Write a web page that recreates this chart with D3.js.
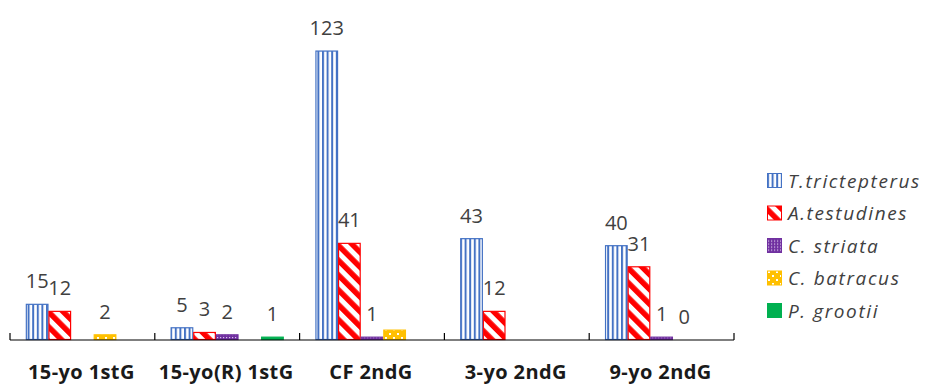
<!DOCTYPE html>
<html>
<head>
<meta charset="utf-8">
<script src="https://cdn.jsdelivr.net/npm/d3@7"></script>
<style>
  html, body { margin: 0; padding: 0; background: #fff; }
  svg { display: block; }
</style>
</head>
<body>
<div id="chart"></div>
<script>
// ---- data ----
const categories = ["15-yo 1stG", "15-yo(R) 1stG", "CF 2ndG", "3-yo 2ndG", "9-yo 2ndG"];
const seriesNames = ["T.trictepterus", "A.testudines", "C. striata", "C. batracus", "P. grootii"];
const tTrictepterus = [15, 5, 123, 43, 40];
const aTestudines   = [12, 3, 41, 12, 31];
const cStriata      = [null, 2, 1, null, 1];
const cBatracus     = [2, null, 4, null, 0];
const pGrootii      = [null, 1, null, null, null];
// data labels shown on the chart (null = no label)
const tLabels  = [15, 5, 123, 43, 40];
const aLabels  = [12, 3, 41, 12, 31];
const csLabels = [null, 2, 1, null, 1];
const cbLabels = [2, null, null, null, 0];
const pgLabels = [null, 1, null, null, null];

const seriesValues = [tTrictepterus, aTestudines, cStriata, cBatracus, pGrootii];
const seriesLabels = [tLabels, aLabels, csLabels, cbLabels, pgLabels];
const colors = ["#4472C4", "#FF0000", "#7030A0", "#FFC000", "#00B050"];
const fills = ["url(#pT)", "url(#pA)", "url(#pCs)", "url(#pCb)", "#00B050"];

const W = 925, H = 384;
const baseY = 339.5;

const svg = d3.select("#chart").append("svg").attr("width", W).attr("height", H);

// ---- patterns ----
const defs = svg.append("defs");
const pT = defs.append("pattern").attr("id", "pT").attr("patternUnits", "userSpaceOnUse")
  .attr("width", 4.6).attr("height", 10);
pT.append("rect").attr("width", 4.6).attr("height", 10).attr("fill", "#fff");
pT.append("rect").attr("x", 0).attr("width", 2).attr("height", 10).attr("fill", "#4472C4");
const pA = defs.append("pattern").attr("id", "pA").attr("patternUnits", "userSpaceOnUse")
  .attr("width", 10.5).attr("height", 10).attr("patternTransform", "rotate(-45)");
pA.append("rect").attr("width", 10.5).attr("height", 10).attr("fill", "#fff");
pA.append("rect").attr("width", 5.5).attr("height", 10).attr("fill", "#FF0000");
const pCs = defs.append("pattern").attr("id", "pCs").attr("patternUnits", "userSpaceOnUse")
  .attr("width", 3).attr("height", 3);
pCs.append("rect").attr("width", 3).attr("height", 3).attr("fill", "#7030A0");
pCs.append("rect").attr("x", 1).attr("y", 1).attr("width", 1.2).attr("height", 1.2).attr("fill", "#d9c6ea");
const pCb = defs.append("pattern").attr("id", "pCb").attr("patternUnits", "userSpaceOnUse")
  .attr("width", 8).attr("height", 8);
pCb.append("rect").attr("width", 8).attr("height", 8).attr("fill", "#FFC000");
pCb.append("rect").attr("x", 1).attr("y", 1).attr("width", 2).attr("height", 2).attr("fill", "#fff");
pCb.append("rect").attr("x", 5).attr("y", 5).attr("width", 2).attr("height", 2).attr("fill", "#fff");

// ---- scales ----
const x0 = d3.scaleBand().domain(categories).range([10, 734]).padding(0);
const x1 = d3.scaleBand().domain(seriesNames).range([0, x0.bandwidth()]).paddingInner(0).paddingOuter(0.7);
const y = d3.scaleLinear().domain([0, 130]).range([baseY, baseY - 130 * 2.345]);

// ---- bars ----
const barsData = [];
seriesNames.forEach((s, si) => {
  categories.forEach((c, ci) => {
    const v = seriesValues[si][ci];
    if (v !== null && v !== undefined) {
      barsData.push({ s, si, c, v, label: seriesLabels[si][ci] });
    }
  });
});

const gBars = svg.append("g");
gBars.selectAll("rect").data(barsData.filter(d => d.v > 0)).join("rect")
  .attr("x", d => x0(d.c) + x1(d.s) + 0.5)
  .attr("y", d => y(d.v))
  .attr("width", x1.bandwidth() - 1)
  .attr("height", d => baseY - y(d.v))
  .attr("fill", d => fills[d.si])
  .attr("stroke", d => colors[d.si])
  .attr("stroke-width", 1.2);

// ---- axis ----
const ax = svg.append("g");
ax.append("line").attr("x1", 10).attr("x2", 734).attr("y1", baseY + 0.5).attr("y2", baseY + 0.5)
  .attr("stroke", "#000").attr("stroke-width", 1.2);
const tickPos = categories.map(c => x0(c)).concat([x0.range()[1]]);
ax.selectAll("line.tick").data(tickPos).join("line").attr("class", "tick")
  .attr("x1", d => d).attr("x2", d => d).attr("y1", baseY - 6.5).attr("y2", baseY + 0.5)
  .attr("stroke", "#000").attr("stroke-width", 1.2);

// category labels
svg.append("g").selectAll("text").data(categories).join("text")
  .attr("x", d => x0(d) + x0.bandwidth() / 2 - 1)
  .attr("y", 379)
  .attr("text-anchor", "middle")
  .attr("font-family", "'Open Sans', sans-serif")
  .attr("font-weight", "bold")
  .attr("font-size", 20)
  .attr("letter-spacing", 0.4)
  .attr("fill", "#1a1a1a")
  .text(d => d);

// value labels
svg.append("g").selectAll("text").data(barsData.filter(d => d.label !== null)).join("text")
  .attr("x", d => x0(d.c) + x1(d.s) + x1.bandwidth() / 2)
  .attr("y", d => y(d.v) - 16)
  .attr("text-anchor", "middle")
  .attr("font-family", "'Open Sans', sans-serif")
  .attr("font-size", 20)
  .attr("fill", "#404040")
  .text(d => d.label);

// ---- legend ----
const legend = svg.append("g");
const lg = legend.selectAll("g").data(seriesNames).join("g")
  .attr("transform", (d, i) => `translate(767, ${180.5 + i * 32.5})`);
lg.append("rect").attr("x", 0.5).attr("y", -7).attr("width", 14).attr("height", 14)
  .attr("fill", (d, i) => fills[i]).attr("stroke", (d, i) => colors[i]).attr("stroke-width", 1);
lg.append("text").attr("x", 21).attr("y", 7)
  .attr("font-family", "'Open Sans', sans-serif")
  .attr("font-style", "italic")
  .attr("font-size", 19)
  .attr("letter-spacing", 1.6)
  .attr("fill", "#404040")
  .text(d => d);
</script>
</body>
</html>
